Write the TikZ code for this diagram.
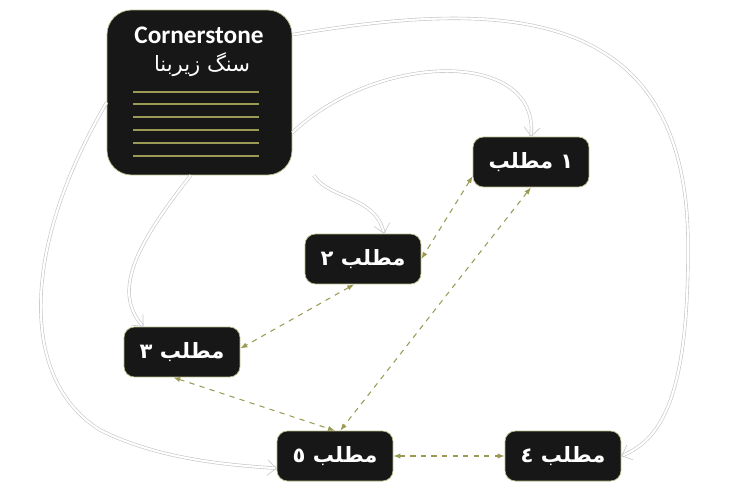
\documentclass[tikz,border=0pt]{standalone}
\usepackage{fontspec}
\setmainfont{Carlito}
\newfontfamily\fa[Script=Arabic]{DejaVu Sans}
\TeXXeTstate=1
\usetikzlibrary{arrows.meta}
\definecolor{boxbg}{HTML}{171717}
\definecolor{olive}{HTML}{9A9A55}
\newcommand{\faR}[1]{{\fa\beginR #1\endR}}
\tikzset{
  box/.style={draw=olive!70, fill=boxbg, rounded corners=6pt, text=white, minimum width=2.32cm, minimum height=1cm, font=\fa\bfseries\large},
  link/.style={draw=gray!45, double=white, double distance=1.2pt, line width=0.35pt, -{Straight Barb[open,length=5pt,width=9pt]}},
  pairlink/.style={olive, dashed, line width=0.6pt, {Latex[length=4pt]}-{Latex[length=4pt]}}
}
\begin{document}
\begin{tikzpicture}[x=0.02cm, y=-0.02cm]
\useasboundingbox (0,0) rectangle (750,500);
% cornerstone
\node[box, rounded corners=14pt, minimum width=3.7cm, minimum height=3.3cm] (cs) at (199.5,92.5) {};
\node[text=white, font=\bfseries\Large] (title) at (199,35) {Cornerstone};
\node[text=white, font=\fa\large] (sub) at (202,65) {\faR{سنگ زیربنا}};
\foreach \y in {92,104,117,130,143,156}
  \draw[olive, line width=0.8pt] (133,\y) -- (259,\y);
% boxes
\node[box] (m1) at (531,162) {\faR{۱ مطلب}};
\node[box] (m2) at (363,259) {\faR{مطلب ۲}};
\node[box] (m3) at (182,352) {\faR{مطلب ۳}};
\node[box] (m5) at (335,456) {\faR{مطلب ٥}};
\node[box] (m4) at (563,456) {\faR{مطلب ٤}};
% links
\draw[link] (cs.north east) ++(0,25) .. controls (500,0) and (690,0) .. (688,250) .. controls (688,400) and (660,440) .. (m4.east);
\draw[link] ([yshift=-70]cs.north east) .. controls (380,50) and (540,50) .. (m1.north);
\draw[link] ([xshift=65]cs.south) .. controls (330,200) and (375,195) .. ([xshift=12]m2.north);
\draw[link] ([xshift=-5]cs.south) .. controls (140,240) and (110,290) .. ([xshift=-22]m3.north);
\draw[link] (cs.west) ++(0,10) .. controls (20,250) and (20,380) .. (100,430) .. controls (160,460) and (230,465) .. ([yshift=-7]m5.west);
% dashed
\draw[pairlink] ([yshift=-8]m1.west) -- (m2.east);
\draw[pairlink] (m1.south) -- ([xshift=3]m5.north);
\draw[pairlink] ([xshift=-5]m2.south) -- ([yshift=2]m3.east);
\draw[pairlink] ([xshift=-5]m3.south) -- (m5.north);
\draw[pairlink] (m5.east) -- (m4.west);
\end{tikzpicture}
\end{document}
